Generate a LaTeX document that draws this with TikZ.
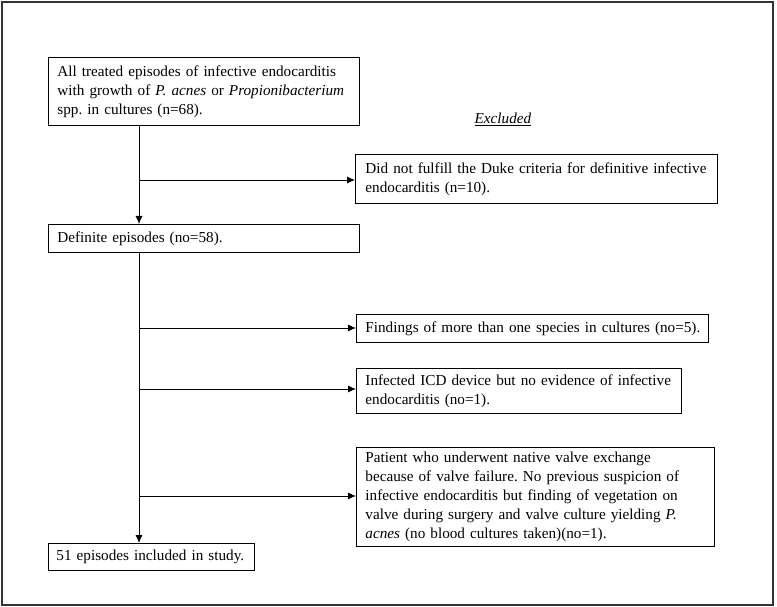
\documentclass[tikz,border=0pt]{standalone}
\usepackage{fontspec}
\setmainfont{Liberation Serif}
\usetikzlibrary{arrows.meta}
\usetikzlibrary{positioning}

\tikzset{
  flowbox/.style={draw,line width=0.9pt,anchor=north west,align=left,inner xsep=9pt,inner ysep=0pt,
    font=\fontsize{15.2}{19}\selectfont,
    execute at begin node={\frenchspacing\hyphenpenalty=10000\relax}},
  flowline/.style={line width=0.8pt},
  flowarrow/.style={line width=0.8pt,-{Latex[length=8pt,width=7pt]}}
}

\begin{document}
\begin{tikzpicture}[x=1pt,y=-1pt]
\useasboundingbox (0,0) rectangle (777,607);
\draw[line width=2pt,black!80] (1.5,2) rectangle (773,605);
% main column
\node (all) at (48,57)[flowbox,text width=293pt,minimum height=68pt]{All treated episodes of infective endocarditis\\with growth of \textit{P. acnes} or \textit{Propionibacterium}\\spp. in cultures (n=68).};
\node (definite) at (48,224)[flowbox,text width=293pt,minimum height=28pt]{Definite episodes (no=58).};
\node (final) at (48,543)[flowbox,inner xsep=8pt,text width=190pt,minimum height=27pt]{51 episodes included in study.};
% excluded column
\node (excl) at (503,119)[font=\fontsize{15.2}{19}\selectfont]{\underline{\textit{Excluded}}};
\node (duke) at (355,154)[flowbox,inner xsep=10pt,text width=342pt,minimum height=49pt]{Did not fulfill the Duke criteria for definitive infective\\endocarditis (n=10).};
\node (species) at (356,314)[flowbox,text width=334pt,minimum height=28pt]{\mbox{Findings of more than one species in cultures (no=5).}};
\node (icd) at (356,368)[flowbox,text width=307pt,minimum height=45pt]{Infected ICD device but no evidence of infective\\endocarditis (no=1).};
\node (valve) at (356,447)[flowbox,text width=340pt,minimum height=99pt]{Patient who underwent native valve exchange\\because of valve failure. No previous suspicion of\\infective endocarditis but finding of vegetation on\\valve during surgery and valve culture yielding \textit{P.}\\\textit{acnes} (no blood cultures taken)(no=1).};
\coordinate (b1) at (139,180);
\coordinate (b2) at (139,328);
\coordinate (b3) at (139,389);
\coordinate (b4) at (139,496);
\draw[flowarrow](all.south -| b1)--(definite.north -| b1);
\draw[flowarrow](definite.south -| b1)--(final.north -| b1);
\draw[flowarrow](b1)--(b1 -| duke.west);
\draw[flowarrow](b2)--(b2 -| species.west);
\draw[flowarrow](b3)--(b3 -| icd.west);
\draw[flowarrow](b4)--(b4 -| valve.west);
\end{tikzpicture}
\end{document}
